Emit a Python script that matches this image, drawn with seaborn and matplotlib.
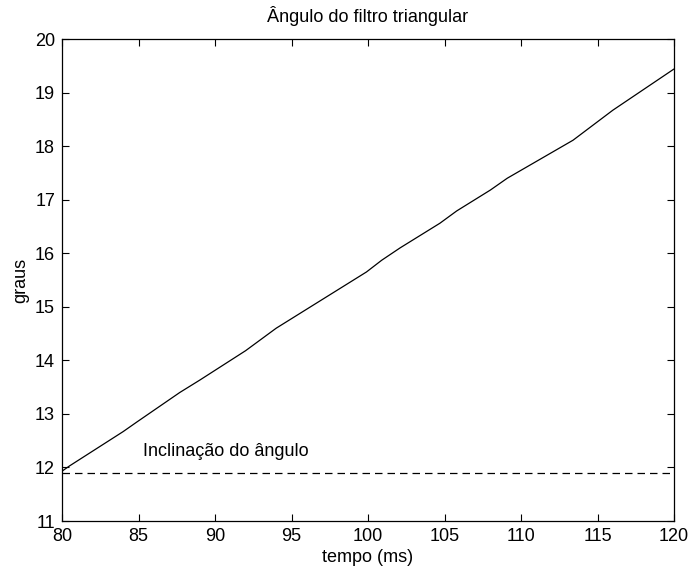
import numpy as np
import pandas as pd
import matplotlib
matplotlib.use('Agg')
import matplotlib.pyplot as plt
import seaborn as sns

# --- データ ---
tempo_ms = [80.0, 80.5, 84.0, 84.9, 87.7, 89.0, 92.0, 94.0, 99.9, 100.9,
            102.1, 104.7, 105.8, 108.0, 109.1, 113.4, 116.0, 120.0]
graus = [11.93, 12.03, 12.67, 12.85, 13.40, 13.63, 14.18, 14.60, 15.65, 15.87,
         16.10, 16.56, 16.79, 17.18, 17.40, 18.11, 18.67, 19.44]
inclinacao = 11.9
x_ticks = [80, 85, 90, 95, 100, 105, 110, 115, 120]
y_ticks = [11, 12, 13, 14, 15, 16, 17, 18, 19, 20]

sns.set_theme(style='white')
plt.rcParams['font.family'] = ['Liberation Sans', 'DejaVu Sans']
plt.rcParams['text.color'] = 'black'
plt.rcParams['axes.labelcolor'] = 'black'
FS = 13

df = pd.DataFrame({'tempo': tempo_ms, 'graus': graus})
df_incl = pd.DataFrame({'tempo': [80, 120], 'graus': [inclinacao, inclinacao]})

fig = plt.figure(figsize=(6.9, 5.73), dpi=100)
ax = fig.add_axes([62 / 690, 1 - 521 / 573, 612 / 690, 482 / 573])

sns.lineplot(data=df, x='tempo', y='graus', ax=ax, color='black', linewidth=0.9)
sns.lineplot(data=df_incl, x='tempo', y='graus', ax=ax, color='black',
             linewidth=0.9, linestyle=(0, (6, 4)))
ax.text(85.3, 12.3, 'Inclinação do ângulo', fontsize=FS, va='center', ha='left',
        color='black')

ax.set_xlim(80, 120)
ax.set_ylim(11, 20)
ax.set_xticks(x_ticks)
ax.set_yticks(y_ticks)
ax.tick_params(direction='in', length=5, width=0.8, labelsize=FS,
               top=True, right=True, bottom=True, left=True, colors='black', pad=5)
for s in ax.spines.values():
    s.set_color('black')
    s.set_linewidth(0.9)

ax.set_title('Ângulo do filtro triangular', fontsize=FS, pad=12, color='black')
ax.set_xlabel('tempo (ms)', fontsize=FS, labelpad=3, color='black')
ax.set_ylabel('graus', fontsize=FS, labelpad=4, color='black')

fig.savefig('out.png', dpi=100)
